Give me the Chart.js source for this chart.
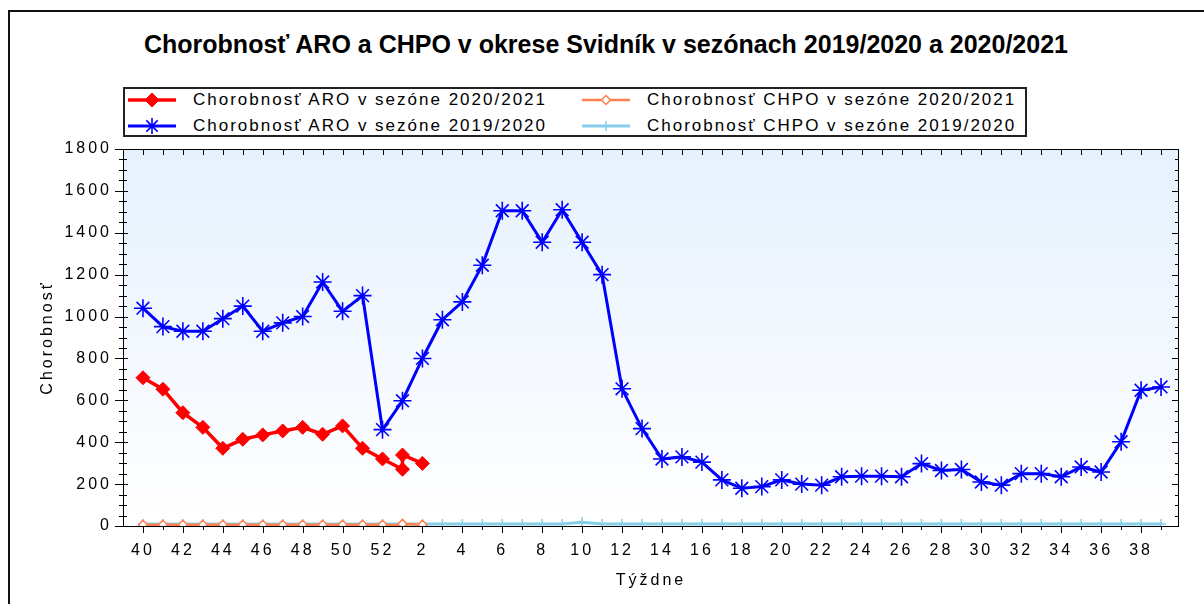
<!DOCTYPE html>
<html>
<head>
<meta charset="utf-8">
<title>Chorobnosť ARO a CHPO - Svidník</title>
<script src="https://cdn.jsdelivr.net/npm/chart.js@4.4.1/dist/chart.umd.min.js"></script>
<style>
  html, body { margin: 0; padding: 0; background: #fff; }
  body { width: 1204px; height: 604px; overflow: hidden; position: relative; font-family: "Liberation Sans", Arial, sans-serif; color: #000; }
  #frame { position: absolute; left: 8px; top: 10px; width: 1300px; height: 700px; border-left: 2px solid #111; border-top: 2px solid #111; }
  #title { position: absolute; left: 0; top: 29px; width: 1212px; text-align: center; font-weight: bold; font-size: 25px; line-height: 30px; white-space: nowrap; }
  #legend { position: absolute; left: 123px; top: 87px; width: 904px; height: 50px; box-sizing: border-box; border: 2px solid #222; }
  .item { position: absolute; height: 22px; }
  .item canvas { position: absolute; left: 0; top: 0; }
  .item span { position: absolute; top: 0; line-height: 22px; font-size: 17px; letter-spacing: 2px; white-space: nowrap; }
  #chart { position: absolute; left: 0; top: 0; }
</style>
</head>
<body>
<div id="frame"></div>
<div id="title">Chorobnosť ARO a CHPO v okrese Svidník v sezónach 2019/2020 a 2020/2021</div>
<div id="legend"></div>
<canvas id="chart" width="1204" height="604"></canvas>
<script>
// x axis: one season, week 40 .. week 39
const weeks = ['40', '41', '42', '43', '44', '45', '46', '47', '48', '49', '50', '51', '52',
  '1', '2', '3', '4', '5', '6', '7', '8', '9', '10', '11', '12', '13', '14', '15', '16', '17', '18', '19', '20',
  '21', '22', '23', '24', '25', '26', '27', '28', '29', '30', '31', '32', '33', '34', '35', '36', '37', '38', '39'];

// sezona 2020/2021 (ma aj 53. tyzden, kresli sa na mieste 1. tyzdna)
const weeks2021 = ['40', '41', '42', '43', '44', '45', '46', '47', '48', '49', '50', '51', '52', '53', '1', '2'];
const aro2021 = [708, 653, 541, 471, 371, 414, 435, 454, 471, 438, 478, 371, 320, 271, 339, 299];
const chpo2021 = [6, 6, 6, 6, 6, 6, 6, 6, 6, 6, 6, 6, 6, 4, 10, 6];

// sezona 2019/2020
const aro2020 = [1040, 952, 930, 930, 990, 1050, 930, 970, 1000, 1165, 1025, 1100, 460,
  598, 800, 985, 1070, 1245, 1505, 1505, 1355, 1510, 1355,
  1200, 655, 465, 320, 330, 305, 220, 180, 188, 220,
  200, 195, 235, 238, 238, 235, 298, 265, 270, 210,
  195, 250, 250, 235, 282, 258, 402, 648, 664];
const chpo2020 = [9, 9, 9, 9, 9, 9, 9, 9, 9, 9, 9, 9, 9,
  9, 9, 9, 9, 9, 9, 9, 9, 9, 18,
  9, 9, 9, 9, 9, 9, 9, 9, 9, 9,
  9, 9, 9, 9, 9, 9, 9, 9, 9, 9,
  9, 9, 9, 9, 9, 9, 9, 9, 9];

const yMax = 1800;
const yLabelStep = 200;
const yMinorStep = 50;

const pos = w => weeks.indexOf(w === '53' ? '1' : w);
const pts = (wk, vals) => vals.map((v, i) => ({ x: pos(wk[i]), y: v }));

const textFont = { family: '"Liberation Sans", Arial, sans-serif', size: 16 };

const plotDecor = {
  id: 'plotDecor',
  beforeUpdate(chart) { chart.ctx.letterSpacing = '3px'; },
  beforeDraw(chart) {
    const { ctx, chartArea: a } = chart;
    ctx.letterSpacing = '3px';
    const g = ctx.createLinearGradient(0, a.top, 0, a.bottom);
    g.addColorStop(0, '#E6F1FE');
    g.addColorStop(1, '#FFFFFF');
    ctx.save();
    ctx.fillStyle = g;
    ctx.fillRect(a.left, a.top, a.right - a.left, a.bottom - a.top);
    ctx.restore();
  },
  beforeDatasetsDraw(chart) {
    const { ctx, chartArea: a, scales: { x, y } } = chart;
    ctx.save();
    ctx.strokeStyle = '#000';
    ctx.lineWidth = 1;
    ctx.strokeRect(a.left + 0.5, a.top + 0.5, a.right - a.left - 1, a.bottom - a.top);
    ctx.beginPath();
    for (let v = 0; v <= yMax; v += yMinorStep) {
      const py = Math.round(y.getPixelForValue(v)) + 0.5;
      const major = v % yLabelStep === 0;
      ctx.moveTo(a.left - (major ? 8 : 4), py);
      ctx.lineTo(a.left + (major ? 5 : 4), py);
      ctx.moveTo(a.right, py);
      ctx.lineTo(a.right - (major ? 7 : 4), py);
    }
    for (let i = 0; i < weeks.length; i++) {
      const px = Math.round(x.getPixelForValue(i)) + 0.5;
      ctx.moveTo(px, a.top);
      ctx.lineTo(px, a.top + 6);
      ctx.moveTo(px, a.bottom);
      ctx.lineTo(px, a.bottom + (i % 2 === 0 ? 7 : 4));
    }
    ctx.stroke();
    ctx.restore();
  }
};

const ctx = document.getElementById('chart').getContext('2d');
const chart = new Chart(ctx, {
  type: 'line',
  data: {
    datasets: [{
      label: 'Chorobnosť ARO v sezóne 2020/2021',
      data: pts(weeks2021, aro2021),
      borderColor: '#FF0000',
      backgroundColor: '#FF0000',
      pointBackgroundColor: '#FF0000',
      borderWidth: 3.5,
      pointStyle: 'rectRot',
      pointRadius: 7,
      pointBorderWidth: 1
    }, {
      label: 'Chorobnosť CHPO v sezóne 2020/2021',
      data: pts(weeks2021, chpo2021),
      borderColor: '#FF7F50',
      backgroundColor: '#FFFFFF',
      pointBackgroundColor: '#FFFFFF',
      borderWidth: 2.5,
      pointStyle: 'rectRot',
      pointRadius: 4.5,
      pointBorderWidth: 1.5
    }, {
      label: 'Chorobnosť ARO v sezóne 2019/2020',
      data: pts(weeks, aro2020),
      borderColor: '#0000FF',
      backgroundColor: '#0000FF',
      pointBackgroundColor: '#0000FF',
      borderWidth: 3,
      pointStyle: 'star',
      pointRadius: 9,
      pointBorderWidth: 1.6
    }, {
      label: 'Chorobnosť CHPO v sezóne 2019/2020',
      data: pts(weeks, chpo2020),
      borderColor: '#87CEEB',
      backgroundColor: '#87CEEB',
      pointBackgroundColor: '#87CEEB',
      borderWidth: 3,
      pointStyle: 'cross',
      pointRadius: 5,
      pointBorderWidth: 1.5
    }]
  },
  options: {
    responsive: false,
    animation: false,
    devicePixelRatio: 1,
    layout: { padding: { top: 149, right: 25, left: 0, bottom: 0 } },
    plugins: {
      legend: { display: false },
      title: { display: false },
      tooltip: { enabled: false }
    },
    scales: {
      x: {
        type: 'linear',
        min: -1,
        max: 51.9,
        grid: { display: false, drawTicks: false },
        border: { display: false },
        ticks: {
          stepSize: 1,
          autoSkip: false,
          maxRotation: 0,
          padding: 15,
          color: '#000',
          font: textFont,
          callback: v => (Number.isInteger(v) && v >= 0 && v % 2 === 0 && weeks[v]) ? weeks[v] : ''
        },
        title: { display: true, text: 'Týždne', color: '#000', font: textFont, padding: { top: 0, bottom: 14 } },
        afterFit(scale) { scale.height = 78; }
      },
      y: {
        min: 0,
        max: yMax,
        grid: { display: false, drawTicks: false },
        border: { display: false },
        ticks: { stepSize: yLabelStep, padding: 11, color: '#000', font: textFont, callback: v => String(v) },
        title: { display: true, text: 'Chorobnosť', color: '#000', font: textFont, padding: { top: 38, bottom: 0 } },
        afterFit(scale) { scale.width = 123; }
      }
    }
  },
  plugins: [plotDecor]
});

// legenda v ramceku, dva stlpce
const legendPos = [[0, 0], [454, 0], [0, 26], [454, 26]];
const legendOrder = [0, 1, 2, 3];
const legendEl = document.getElementById('legend');
legendOrder.forEach((dsIndex, k) => {
  const ds = chart.data.datasets[dsIndex];
  const item = document.createElement('div');
  item.className = 'item';
  item.style.left = (3 + legendPos[k][0]) + 'px';
  item.style.top = (legendPos[k][1]) + 'px';
  const c = document.createElement('canvas');
  c.width = 52; c.height = 22;
  const g = c.getContext('2d');
  g.strokeStyle = ds.borderColor;
  g.lineWidth = ds.borderWidth;
  g.beginPath(); g.moveTo(0, 11); g.lineTo(48, 11); g.stroke();
  g.fillStyle = ds.pointBackgroundColor;
  g.strokeStyle = ds.borderColor;
  g.lineWidth = ds.pointBorderWidth;
  if (Chart.helpers && Chart.helpers.drawPoint) {
    Chart.helpers.drawPoint(g, { pointStyle: ds.pointStyle, radius: Math.min(ds.pointRadius, 8), borderWidth: ds.pointBorderWidth, rotation: 0 }, 24, 11);
  }
  item.appendChild(c);
  const s = document.createElement('span');
  s.style.left = '65px';
  s.textContent = ds.label;
  item.appendChild(s);
  legendEl.appendChild(item);
});
</script>
</body>
</html>
